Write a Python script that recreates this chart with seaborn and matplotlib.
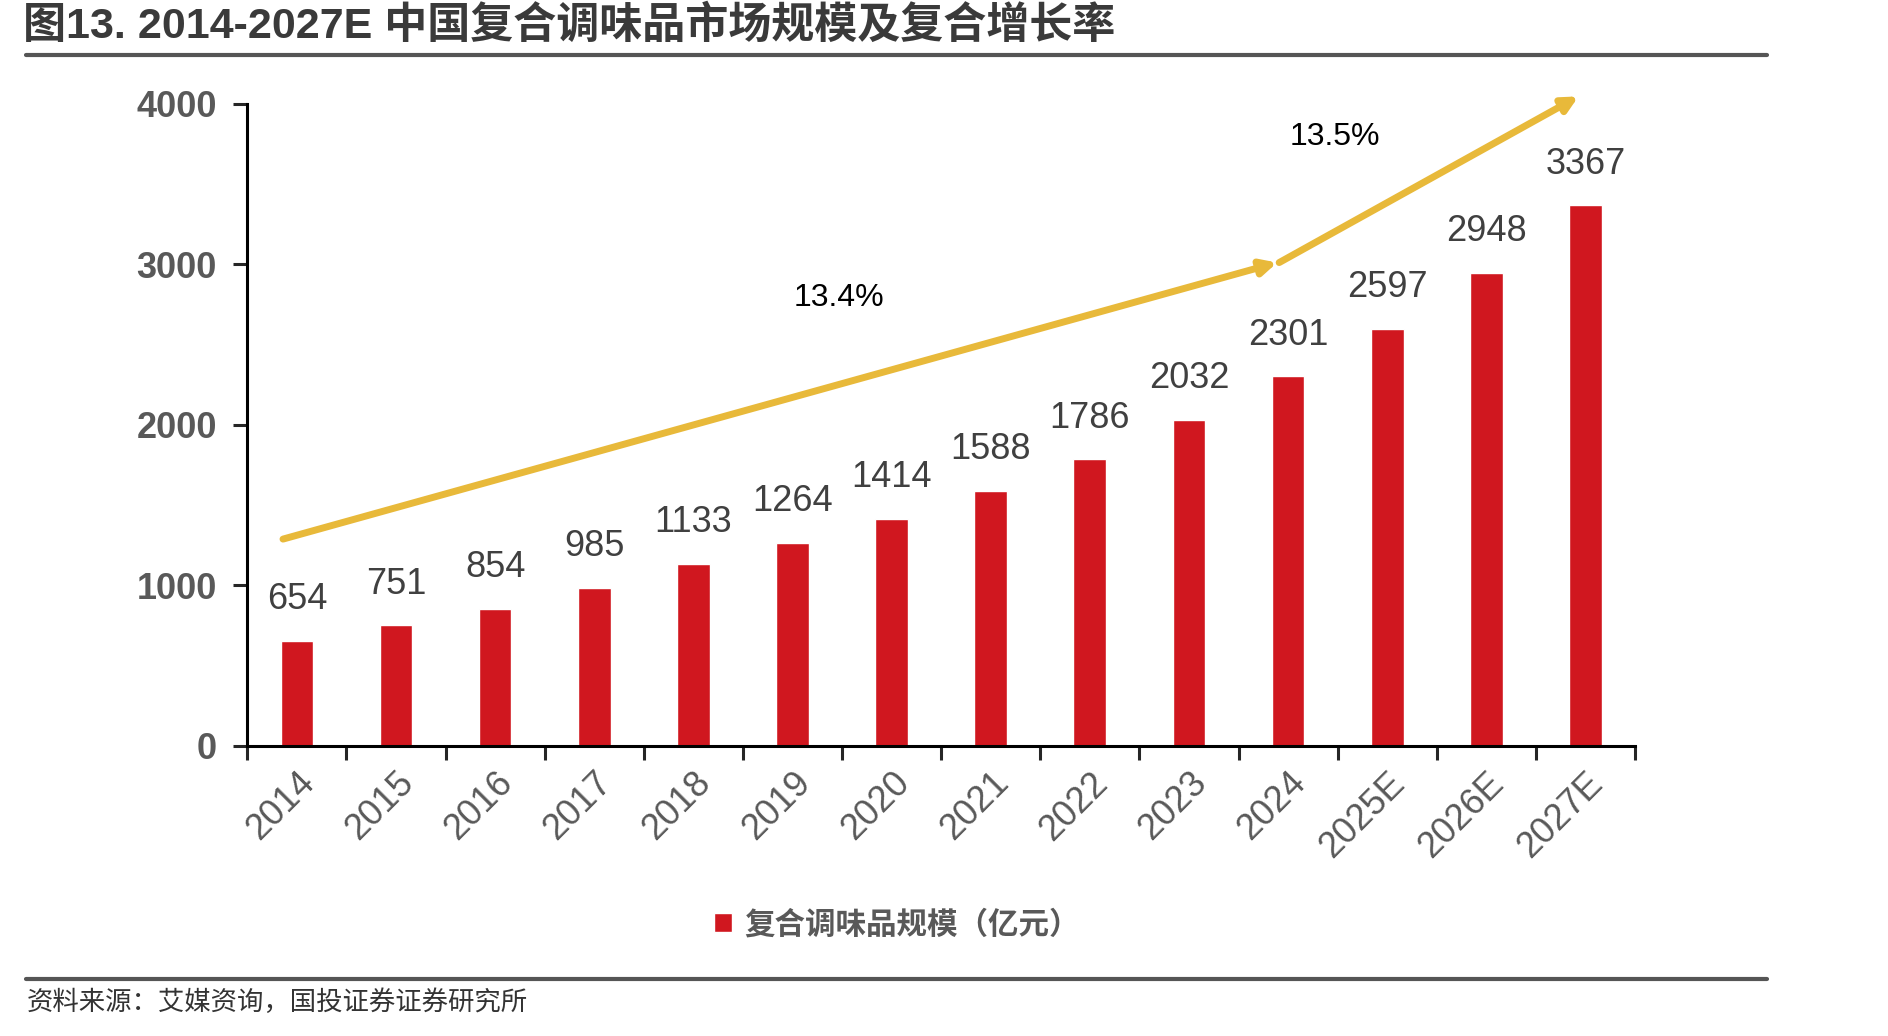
import matplotlib
matplotlib.use("Agg")
import matplotlib.pyplot as plt
import pandas as pd
import seaborn as sns

# Data
years = ['2014', '2015', '2016', '2017', '2018', '2019', '2020', '2021',
         '2022', '2023', '2024', '2025E', '2026E', '2027E']
market_size = [654, 751, 854, 985, 1133, 1264, 1414, 1588, 1786, 2032, 2301, 2597, 2948, 3367]
cagr_labels = ['13.4%', '13.5%']

title = '图13. 2014-2027E 中国复合调味品市场规模及复合增长率'
legend_label = '复合调味品规模（亿元）'
source = '资料来源：艾媒资询，国投证券证券研究所'

sns.set_style("white")
plt.rcParams['font.family'] = ['Liberation Sans', 'Noto Sans CJK SC', 'DejaVu Sans']

bar_color = '#D0171F'
arrow_color = '#E8B93A'
gray = '#595959'

df = pd.DataFrame({'year': years, 'size': market_size})

fig = plt.figure(figsize=(18.88, 10.36), dpi=100)
ax = fig.add_axes([0.131, 0.280, 0.735, 0.620])

sns.barplot(x='year', y='size', data=df, color=bar_color, width=0.33, ax=ax,
            saturation=1, label=legend_label)
handles, labels = ax.get_legend_handles_labels()
if ax.get_legend() is not None:
    ax.get_legend().remove()

ax.set_ylim(0, 4000)
ax.set_xlim(-0.5, len(years) - 0.5)
ax.set_yticks([0, 1000, 2000, 3000, 4000])
ax.set_xlabel('')
ax.set_ylabel('')

for s in ['top', 'right']:
    ax.spines[s].set_visible(False)
for s in ['left', 'bottom']:
    ax.spines[s].set_color('black')
    ax.spines[s].set_linewidth(2.2)

ax.tick_params(axis='y', direction='out', length=10, width=2.2, pad=12,
               labelsize=26, labelcolor=gray, left=True)
for lbl in ax.get_yticklabels():
    lbl.set_fontweight('bold')

# x ticks on category boundaries, labels at centres
ax.set_xticks([i - 0.5 for i in range(len(years) + 1)], minor=True)
ax.tick_params(axis='x', which='minor', direction='out', length=10, width=2.2, bottom=True)
ax.tick_params(axis='x', which='major', length=0, pad=14, labelsize=26, labelcolor=gray)
ax.set_xticks(range(len(years)))
ax.set_xticklabels(years, rotation=45, ha='right', rotation_mode='anchor')

# Value labels
for i, v in enumerate(market_size):
    ax.annotate(str(v), (i, v), xytext=(0, 17), textcoords='offset points',
                ha='center', va='bottom', fontsize=26, color='#404040')

# Growth arrows
arrow_kw = dict(arrowstyle='-|>,head_length=0.9,head_width=0.45', color=arrow_color,
                lw=5, shrinkA=0, shrinkB=0)
ax.annotate('', xy=(9.89, 3010), xytext=(-0.14, 1288), arrowprops=arrow_kw,
            annotation_clip=False)
ax.annotate('', xy=(12.93, 4045), xytext=(9.91, 3010), arrowprops=arrow_kw,
            annotation_clip=False)
ax.text(5.47, 2790, cagr_labels[0], ha='center', va='center', fontsize=23, color='black')
ax.text(10.47, 3790, cagr_labels[1], ha='center', va='center', fontsize=23, color='black')

# Legend
fig.legend(handles, labels, loc='center', bbox_to_anchor=(0.475, 0.108), frameon=False,
           handlelength=0.6, handleheight=0.6, handletextpad=0.4,
           labelcolor=gray, prop={'family': ['Noto Sans CJK SC'], 'size': 22, 'weight': 'bold'})

# Title, rules and source
fig.text(0.012, 0.975, title, ha='left', va='center', fontsize=31, fontweight='bold',
         color='#3a3a3a')
fig.add_artist(plt.Line2D([0.014, 0.936], [0.947, 0.947], color='#555555', lw=3))
fig.add_artist(plt.Line2D([0.014, 0.936], [0.055, 0.055], color='#555555', lw=3))
fig.text(0.014, 0.032, source, ha='left', va='center', fontsize=19, color='#333333',
         fontstyle='italic', family=['Noto Sans CJK SC'])

fig.savefig('out.png', dpi=100, facecolor='white')
